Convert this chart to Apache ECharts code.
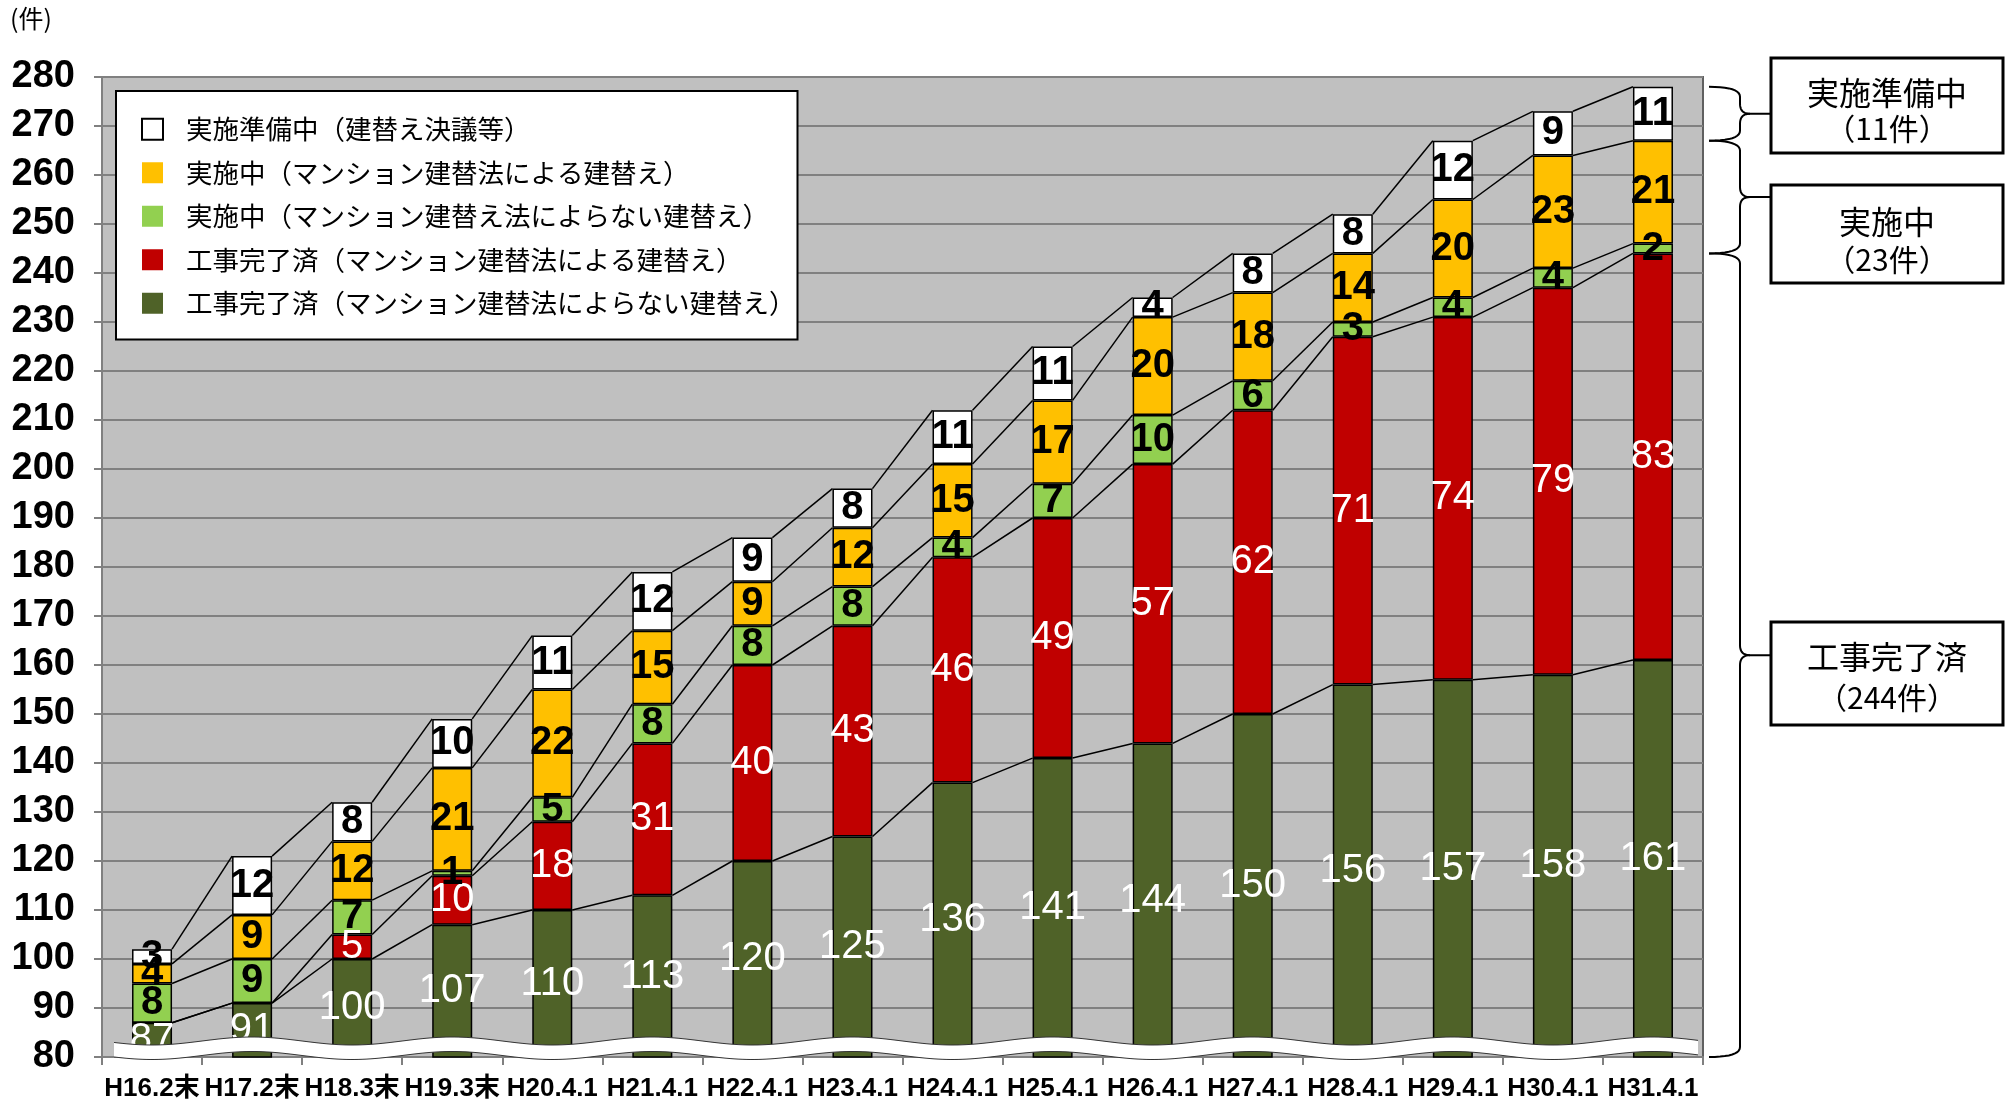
<!DOCTYPE html>
<html>
<head>
<meta charset="utf-8">
<title>マンション建替えの実施状況</title>
<script src="https://cdn.jsdelivr.net/npm/echarts@6/dist/echarts.min.js"></script>
<style>
html, body { margin: 0; padding: 0; background: #fff; }
#main { width: 2006px; height: 1100px; }
</style>
</head>
<body>
<div id="main"></div>
<script>
// 横軸（時点）
var categories = ['H16.2末', 'H17.2末', 'H18.3末', 'H19.3末', 'H20.4.1', 'H21.4.1', 'H22.4.1', 'H23.4.1',
	'H24.4.1', 'H25.4.1', 'H26.4.1', 'H27.4.1', 'H28.4.1', 'H29.4.1', 'H30.4.1', 'H31.4.1'];
// 各系列（下から積み上げ）
var kanryoNot = [87, 91, 100, 107, 110, 113, 120, 125, 136, 141, 144, 150, 156, 157, 158, 161]; // 工事完了済（よらない）
var kanryoHo = [0, 0, 5, 10, 18, 31, 40, 43, 46, 49, 57, 62, 71, 74, 79, 83];                   // 工事完了済（建替法）
var jisshiNot = [8, 9, 7, 1, 5, 8, 8, 8, 4, 7, 10, 6, 3, 4, 4, 2];                              // 実施中（よらない）
var jisshiHo = [4, 9, 12, 21, 22, 15, 9, 12, 15, 17, 20, 18, 14, 20, 23, 21];                   // 実施中（建替法）
var junbi = [3, 12, 8, 10, 11, 12, 9, 8, 11, 11, 4, 8, 8, 12, 9, 11];                           // 実施準備中
var names = ['工事完了済（マンション建替法によらない建替え）', '工事完了済（マンション建替法による建替え）',
	'実施中（マンション建替え法によらない建替え）', '実施中（マンション建替法による建替え）', '実施準備中（建替え決議等）'];
var colors = ['#4F6228', '#C00000', '#92D050', '#FFC000', '#FFFFFF'];
var labelColors = ['#fff', '#fff', '#000', '#000', '#000'];
var labelWeights = ['normal', 'normal', 'bold', 'bold', 'bold'];
// 縦軸
var yMin = 80, yMax = 280, yStep = 10;
// 右側の注記
var notes = [
	{title: '実施準備中', count: '（11件）'},
	{title: '実施中', count: '（23件）'},
	{title: '工事完了済', count: '（244件）'}
];

var font = "'Liberation Sans', 'Noto Sans CJK JP', sans-serif";
var jpFont = "'Noto Sans CJK JP', sans-serif";

var stacks = [kanryoNot, kanryoHo, jisshiNot, jisshiHo, junbi];
// 積み上げ累計（系列線用）
var cum = [];
for (var k = 0; k < stacks.length; k++) {
	cum.push([]);
	for (var i = 0; i < categories.length; i++) {
		cum[k].push((k > 0 ? cum[k - 1][i] : 0) + stacks[k][i]);
	}
}
var lineData = [];
for (var i = 0; i < categories.length - 1; i++) {
	var row = [i];
	for (var k = 0; k < 5; k++) row.push(cum[k][i]);
	for (var k = 0; k < 5; k++) row.push(cum[k][i + 1]);
	lineData.push(row);
}

var series = [];
for (var k = 0; k < stacks.length; k++) {
	series.push({
		name: names[k],
		type: 'bar',
		stack: 'total',
		barWidth: '40%',
		data: stacks[k],
		itemStyle: {
			color: colors[k],
			borderColor: '#000',
			borderWidth: 1.5
		},
		label: {
			show: true,
			position: 'inside',
			color: labelColors[k],
			fontSize: 40,
			fontWeight: labelWeights[k],
			fontFamily: font,
			formatter: function(p) { return p.value ? String(p.value) : ''; }
		},
		z: 2
	});
}
// 系列線
series.push({
	type: 'custom',
	data: lineData,
	encode: {x: 0, y: 1},
	silent: true,
	z: 3,
	renderItem: function(params, api) {
		var i = api.value(0);
		var half = api.size([1, 0])[0] * 0.2;
		var children = [];
		for (var k = 0; k < 5; k++) {
			var p1 = api.coord([i, api.value(1 + k)]);
			var p2 = api.coord([i + 1, api.value(6 + k)]);
			children.push({
				type: 'line',
				shape: {x1: p1[0] + half, y1: p1[1], x2: p2[0] - half, y2: p2[1]},
				style: {stroke: '#000', lineWidth: 1.5}
			});
		}
		return {type: 'group', children: children};
	}
});

var legendData = [];
for (var k = stacks.length - 1; k >= 0; k--) {
	legendData.push({
		name: names[k],
		itemStyle: k == 4 ? {borderColor: '#000', borderWidth: 2} : {borderWidth: 0}
	});
}

var myChart = echarts.init(document.getElementById('main'));
var option = {
	animation: false,
	backgroundColor: '#fff',
	textStyle: {fontFamily: font},
	grid: {
		left: 102, top: 77, right: 303, bottom: 43,
		show: true,
		backgroundColor: '#C0C0C0',
		borderColor: '#606060',
		borderWidth: 2,
		containLabel: false,
		outerBoundsMode: 'none'
	},
	legend: {
		data: legendData,
		orient: 'vertical',
		left: 116,
		top: 91,
		backgroundColor: '#fff',
		borderColor: '#000',
		borderWidth: 2,
		padding: [25, 2, 23, 25],
		itemGap: 17,
		itemWidth: 21,
		itemHeight: 21,
		icon: 'rect',
		itemStyle: {borderWidth: 0},
		textStyle: {
			fontSize: 26.5,
			fontFamily: jpFont,
			color: '#000',
			lineHeight: 26,
			padding: [0, 0, 0, 18]
		}
	},
	xAxis: {
		type: 'category',
		data: categories,
		axisLine: {lineStyle: {color: '#808080', width: 2}},
		axisTick: {show: true, length: 8, lineStyle: {color: '#808080', width: 2}},
		axisLabel: {
			interval: 0,
			margin: 19,
			color: '#000',
			fontSize: 26,
			fontWeight: 'bold',
			fontFamily: font
		}
	},
	yAxis: {
		type: 'value',
		min: yMin,
		max: yMax,
		interval: yStep,
		axisLine: {show: true, lineStyle: {color: '#808080', width: 2}},
		axisTick: {show: true, length: 8, lineStyle: {color: '#808080', width: 2}},
		axisLabel: {
			margin: 27,
			color: '#000',
			fontSize: 38,
			fontWeight: 'bold',
			fontFamily: font
		},
		splitLine: {lineStyle: {color: '#808080', width: 2}}
	},
	series: series
};
myChart.setOption(option, true);

// 波線（省略記号）・かっこ・注記
function quad(pts, p0, c, p1) {
	for (var t = 0.1; t <= 1.0001; t += 0.1) {
		pts.push([
			(1 - t) * (1 - t) * p0[0] + 2 * (1 - t) * t * c[0] + t * t * p1[0],
			(1 - t) * (1 - t) * p0[1] + 2 * (1 - t) * t * c[1] + t * t * p1[1]
		]);
	}
}
function brace(xa, y1, y2, xv, xt) {
	var ym = (y1 + y2) / 2, r = Math.min(10, (y2 - y1) / 4);
	var up = [[xa, y1]];
	quad(up, [xa, y1], [xv, y1], [xv, y1 + r]);
	up.push([xv, ym - r]);
	quad(up, [xv, ym - r], [xv, ym], [xv + 10, ym]);
	up.push([xt, ym]);
	var dn = [[xa, y2]];
	quad(dn, [xa, y2], [xv, y2], [xv, y2 - r]);
	dn.push([xv, ym + r]);
	quad(dn, [xv, ym + r], [xv, ym], [xv + 10, ym]);
	var st = {stroke: '#000', lineWidth: 2, fill: null};
	return [
		{type: 'polyline', shape: {points: up}, style: st, z: 10},
		{type: 'polyline', shape: {points: dn}, style: st, z: 10}
	];
}

var p0 = myChart.convertToPixel({gridIndex: 0}, [0, yMin]);
var p1 = myChart.convertToPixel({gridIndex: 0}, [1, yMin]);
var step = p1[0] - p0[0];
var plotRight = p0[0] - step / 2 + step * categories.length;
var waveTop = [], waveBottom = [];
for (var x = p0[0] - 38; x <= plotRight - 4; x += 4) {
	var yt = p0[1] - 16 + 4 * Math.cos(2 * Math.PI * (x - p0[0]) / (2 * step));
	waveTop.push([x, yt]);
	waveBottom.unshift([x, yt + 14.5]);
}
var graphic = [
	{type: 'polygon', shape: {points: waveTop.concat(waveBottom)}, style: {fill: '#fff', stroke: null}, z: 50},
	{type: 'polyline', shape: {points: waveTop}, style: {stroke: '#333', lineWidth: 1, fill: null}, z: 51},
	{type: 'polyline', shape: {points: waveBottom}, style: {stroke: '#333', lineWidth: 1, fill: null}, z: 51},
	{type: 'text', left: 10, top: 6, style: {text: '(件)', font: '25px ' + jpFont, fill: '#000'}, z: 10}
];
var last = categories.length - 1;
var yTop = myChart.convertToPixel({gridIndex: 0}, [last, cum[4][last]])[1];
var yJ = myChart.convertToPixel({gridIndex: 0}, [last, cum[3][last]])[1];
var yK = myChart.convertToPixel({gridIndex: 0}, [last, cum[1][last]])[1];
var yBase = p0[1];
var xa = plotRight + 6, xv = 1740, xt = 1771;
graphic = graphic.concat(brace(xa, yTop, yJ, xv, xt), brace(xa, yJ, yK, xv, xt), brace(xa, yK, yBase, xv, xt));

var boxes = [[58, 95], [185, 98], [622, 103]];
var lines = [[93, 129], [222, 260], [657, 698]];
for (var b = 0; b < boxes.length; b++) {
	graphic.push({
		type: 'rect',
		shape: {x: 1771, y: boxes[b][0], width: 232, height: boxes[b][1]},
		style: {fill: '#fff', stroke: '#000', lineWidth: 3},
		z: 10
	});
	graphic.push({type: 'text', z: 11, style: {text: notes[b].title, x: 1887, y: lines[b][0], textAlign: 'center', textVerticalAlign: 'middle', font: '32px ' + jpFont, fill: '#000'}});
	graphic.push({type: 'text', z: 11, style: {text: notes[b].count, x: 1887, y: lines[b][1], textAlign: 'center', textVerticalAlign: 'middle', font: '30px ' + jpFont, fill: '#000'}});
}
myChart.setOption({graphic: graphic});
</script>
</body>
</html>
